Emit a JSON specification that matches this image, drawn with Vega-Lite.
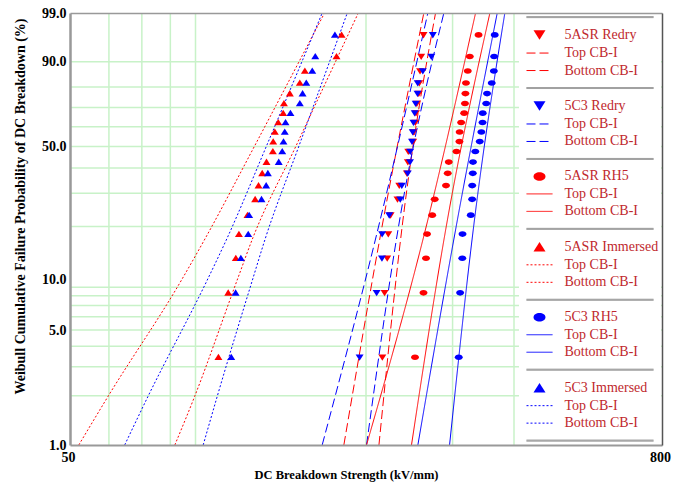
{
  "$schema": "https://vega.github.io/schema/vega-lite/v6.json",
  "width": 592,
  "height": 432,
  "autosize": {"type": "none"},
  "padding": {"left": 70, "top": 13, "right": 20, "bottom": 37},
  "background": "white",
  "config": {"view": {"stroke": null}, "font": "Liberation Serif"},
  "datasets": {
    "vgrid": [{"kv": 60}, {"kv": 70}, {"kv": 80}, {"kv": 90}, {"kv": 200}, {"kv": 300}, {"kv": 400}, {"kv": 500}, {"kv": 600}, {"kv": 700}],
    "hgrid": [{"pct": 2, "w": -3.90194}, {"pct": 3, "w": -3.49136}, {"pct": 4, "w": -3.19853}, {"pct": 5, "w": -2.9702}, {"pct": 6, "w": -2.78269}, {"pct": 7, "w": -2.62319}, {"pct": 8, "w": -2.48413}, {"pct": 9, "w": -2.36119}, {"pct": 20, "w": -1.49994}, {"pct": 30, "w": -1.03093}, {"pct": 40, "w": -0.67173}, {"pct": 50, "w": -0.36651}, {"pct": 60, "w": -0.08742}, {"pct": 70, "w": 0.18563}, {"pct": 80, "w": 0.47588}, {"pct": 90, "w": 0.83403}],
    "bounds": [
      {"series": "5ASR Immersed Top CB-I", "kv": 52.1, "w": -4.6},
      {"series": "5ASR Immersed Top CB-I", "kv": 59.7, "w": -3.915},
      {"series": "5ASR Immersed Top CB-I", "kv": 84.3, "w": -2.26},
      {"series": "5ASR Immersed Top CB-I", "kv": 94.3, "w": -1.664},
      {"series": "5ASR Immersed Top CB-I", "kv": 118.7, "w": -0.359},
      {"series": "5ASR Immersed Top CB-I", "kv": 164.7, "w": 1.527},
      {"series": "5ASR Immersed Bottom CB-I", "kv": 81.7, "w": -4.6},
      {"series": "5ASR Immersed Bottom CB-I", "kv": 89.6, "w": -3.915},
      {"series": "5ASR Immersed Bottom CB-I", "kv": 109.4, "w": -2.26},
      {"series": "5ASR Immersed Bottom CB-I", "kv": 117.7, "w": -1.664},
      {"series": "5ASR Immersed Bottom CB-I", "kv": 144.1, "w": -0.359},
      {"series": "5ASR Immersed Bottom CB-I", "kv": 192.9, "w": 1.527},
      {"series": "5C3 Immersed Top CB-I", "kv": 64.6, "w": -4.6},
      {"series": "5C3 Immersed Top CB-I", "kv": 72.0, "w": -3.915},
      {"series": "5C3 Immersed Top CB-I", "kv": 95.1, "w": -2.26},
      {"series": "5C3 Immersed Top CB-I", "kv": 104.4, "w": -1.664},
      {"series": "5C3 Immersed Top CB-I", "kv": 125.5, "w": -0.359},
      {"series": "5C3 Immersed Top CB-I", "kv": 162.9, "w": 1.527},
      {"series": "5C3 Immersed Bottom CB-I", "kv": 93.3, "w": -4.6},
      {"series": "5C3 Immersed Bottom CB-I", "kv": 99.6, "w": -3.915},
      {"series": "5C3 Immersed Bottom CB-I", "kv": 117.5, "w": -2.26},
      {"series": "5C3 Immersed Bottom CB-I", "kv": 124.9, "w": -1.664},
      {"series": "5C3 Immersed Bottom CB-I", "kv": 146.1, "w": -0.359},
      {"series": "5C3 Immersed Bottom CB-I", "kv": 183.2, "w": 1.527},
      {"series": "5ASR Redry Top CB-I", "kv": 180.3, "w": -4.6},
      {"series": "5ASR Redry Top CB-I", "kv": 215.9, "w": -1.48},
      {"series": "5ASR Redry Top CB-I", "kv": 262.2, "w": 1.527},
      {"series": "5ASR Redry Bottom CB-I", "kv": 212.5, "w": -4.6},
      {"series": "5ASR Redry Bottom CB-I", "kv": 237.1, "w": -1.48},
      {"series": "5ASR Redry Bottom CB-I", "kv": 277.0, "w": 1.527},
      {"series": "5C3 Redry Top CB-I", "kv": 162.9, "w": -4.6},
      {"series": "5C3 Redry Top CB-I", "kv": 212.5, "w": -1.48},
      {"series": "5C3 Redry Top CB-I", "kv": 267.2, "w": 1.527},
      {"series": "5C3 Redry Bottom CB-I", "kv": 200.5, "w": -4.6},
      {"series": "5C3 Redry Bottom CB-I", "kv": 233.2, "w": -1.48},
      {"series": "5C3 Redry Bottom CB-I", "kv": 288.0, "w": 1.527},
      {"series": "5ASR RH5 Top CB-I", "kv": 200.5, "w": -4.6},
      {"series": "5ASR RH5 Top CB-I", "kv": 265.6, "w": -1.48},
      {"series": "5ASR RH5 Top CB-I", "kv": 334.1, "w": 1.527},
      {"series": "5ASR RH5 Bottom CB-I", "kv": 247.5, "w": -4.6},
      {"series": "5ASR RH5 Bottom CB-I", "kv": 291.6, "w": -1.48},
      {"series": "5ASR RH5 Bottom CB-I", "kv": 357.3, "w": 1.527},
      {"series": "5C3 RH5 Top CB-I", "kv": 255.0, "w": -4.6},
      {"series": "5C3 RH5 Top CB-I", "kv": 305.5, "w": -1.48},
      {"series": "5C3 RH5 Top CB-I", "kv": 369.8, "w": 1.527},
      {"series": "5C3 RH5 Bottom CB-I", "kv": 295.8, "w": -4.6},
      {"series": "5C3 RH5 Bottom CB-I", "kv": 331.4, "w": -1.48},
      {"series": "5C3 RH5 Bottom CB-I", "kv": 383.2, "w": 1.527}
    ],
    "points": [
      {"series": "5ASR Immersed", "kv": 100.2, "w": -3.355}, {"series": "5ASR Immersed", "kv": 104.9, "w": -2.442}, {"series": "5ASR Immersed", "kv": 108.7, "w": -1.952}, {"series": "5ASR Immersed", "kv": 110.3, "w": -1.609}, {"series": "5ASR Immersed", "kv": 114.8, "w": -1.34}, {"series": "5ASR Immersed", "kv": 119.0, "w": -1.116}, {"series": "5ASR Immersed", "kv": 120.9, "w": -0.921}, {"series": "5ASR Immersed", "kv": 123.0, "w": -0.747}, {"series": "5ASR Immersed", "kv": 125.5, "w": -0.587}, {"series": "5ASR Immersed", "kv": 129.3, "w": -0.438}, {"series": "5ASR Immersed", "kv": 129.5, "w": -0.297}, {"series": "5ASR Immersed", "kv": 130.5, "w": -0.16}, {"series": "5ASR Immersed", "kv": 132.6, "w": -0.026}, {"series": "5ASR Immersed", "kv": 135.7, "w": 0.107}, {"series": "5ASR Immersed", "kv": 136.2, "w": 0.243}, {"series": "5ASR Immersed", "kv": 140.0, "w": 0.384}, {"series": "5ASR Immersed", "kv": 146.7, "w": 0.535}, {"series": "5ASR Immersed", "kv": 150.2, "w": 0.704}, {"series": "5ASR Immersed", "kv": 174.2, "w": 0.91}, {"series": "5ASR Immersed", "kv": 178.4, "w": 1.216},
      {"series": "5C3 Immersed", "kv": 106.4, "w": -3.355}, {"series": "5C3 Immersed", "kv": 108.6, "w": -2.442}, {"series": "5C3 Immersed", "kv": 111.3, "w": -1.952}, {"series": "5C3 Immersed", "kv": 115.2, "w": -1.609}, {"series": "5C3 Immersed", "kv": 115.7, "w": -1.34}, {"series": "5C3 Immersed", "kv": 122.6, "w": -1.116}, {"series": "5C3 Immersed", "kv": 125.3, "w": -0.921}, {"series": "5C3 Immersed", "kv": 126.3, "w": -0.747}, {"series": "5C3 Immersed", "kv": 132.9, "w": -0.587}, {"series": "5C3 Immersed", "kv": 135.1, "w": -0.438}, {"series": "5C3 Immersed", "kv": 135.9, "w": -0.297}, {"series": "5C3 Immersed", "kv": 136.7, "w": -0.16}, {"series": "5C3 Immersed", "kv": 137.2, "w": -0.026}, {"series": "5C3 Immersed", "kv": 140.4, "w": 0.107}, {"series": "5C3 Immersed", "kv": 146.7, "w": 0.243}, {"series": "5C3 Immersed", "kv": 148.6, "w": 0.384}, {"series": "5C3 Immersed", "kv": 151.2, "w": 0.535}, {"series": "5C3 Immersed", "kv": 155.5, "w": 0.704}, {"series": "5C3 Immersed", "kv": 157.7, "w": 0.91}, {"series": "5C3 Immersed", "kv": 172.9, "w": 1.216},
      {"series": "5ASR Redry", "kv": 215.9, "w": -3.355}, {"series": "5ASR Redry", "kv": 218.2, "w": -2.442}, {"series": "5ASR Redry", "kv": 220.9, "w": -1.952}, {"series": "5ASR Redry", "kv": 222.0, "w": -1.609}, {"series": "5ASR Redry", "kv": 224.4, "w": -1.34}, {"series": "5ASR Redry", "kv": 231.8, "w": -1.116}, {"series": "5ASR Redry", "kv": 233.7, "w": -0.921}, {"series": "5ASR Redry", "kv": 242.2, "w": -0.747}, {"series": "5ASR Redry", "kv": 243.3, "w": -0.587}, {"series": "5ASR Redry", "kv": 243.8, "w": -0.438}, {"series": "5ASR Redry", "kv": 249.5, "w": -0.297}, {"series": "5ASR Redry", "kv": 249.8, "w": -0.16}, {"series": "5ASR Redry", "kv": 252.0, "w": -0.026}, {"series": "5ASR Redry", "kv": 252.8, "w": 0.107}, {"series": "5ASR Redry", "kv": 253.7, "w": 0.243}, {"series": "5ASR Redry", "kv": 256.1, "w": 0.384}, {"series": "5ASR Redry", "kv": 256.7, "w": 0.535}, {"series": "5ASR Redry", "kv": 257.6, "w": 0.704}, {"series": "5ASR Redry", "kv": 259.0, "w": 0.91}, {"series": "5ASR Redry", "kv": 261.8, "w": 1.216},
      {"series": "5C3 Redry", "kv": 194.1, "w": -3.355}, {"series": "5C3 Redry", "kv": 210.2, "w": -2.442}, {"series": "5C3 Redry", "kv": 215.5, "w": -1.952}, {"series": "5C3 Redry", "kv": 215.7, "w": -1.609}, {"series": "5C3 Redry", "kv": 223.0, "w": -1.34}, {"series": "5C3 Redry", "kv": 234.8, "w": -1.116}, {"series": "5C3 Redry", "kv": 236.5, "w": -0.921}, {"series": "5C3 Redry", "kv": 243.2, "w": -0.747}, {"series": "5C3 Redry", "kv": 245.8, "w": -0.587}, {"series": "5C3 Redry", "kv": 246.0, "w": -0.438}, {"series": "5C3 Redry", "kv": 248.1, "w": -0.297}, {"series": "5C3 Redry", "kv": 248.9, "w": -0.16}, {"series": "5C3 Redry", "kv": 249.8, "w": -0.026}, {"series": "5C3 Redry", "kv": 251.2, "w": 0.107}, {"series": "5C3 Redry", "kv": 252.4, "w": 0.243}, {"series": "5C3 Redry", "kv": 254.6, "w": 0.384}, {"series": "5C3 Redry", "kv": 254.8, "w": 0.535}, {"series": "5C3 Redry", "kv": 261.0, "w": 0.704}, {"series": "5C3 Redry", "kv": 271.6, "w": 0.91}, {"series": "5C3 Redry", "kv": 273.5, "w": 1.216},
      {"series": "5ASR RH5", "kv": 251.6, "w": -3.355}, {"series": "5ASR RH5", "kv": 261.8, "w": -2.442}, {"series": "5ASR RH5", "kv": 264.9, "w": -1.952}, {"series": "5ASR RH5", "kv": 266.2, "w": -1.609}, {"series": "5ASR RH5", "kv": 272.7, "w": -1.34}, {"series": "5ASR RH5", "kv": 275.9, "w": -1.116}, {"series": "5ASR RH5", "kv": 290.9, "w": -0.921}, {"series": "5ASR RH5", "kv": 293.3, "w": -0.747}, {"series": "5ASR RH5", "kv": 294.7, "w": -0.587}, {"series": "5ASR RH5", "kv": 305.5, "w": -0.438}, {"series": "5ASR RH5", "kv": 309.8, "w": -0.297}, {"series": "5ASR RH5", "kv": 310.1, "w": -0.16}, {"series": "5ASR RH5", "kv": 312.3, "w": -0.026}, {"series": "5ASR RH5", "kv": 316.8, "w": 0.107}, {"series": "5ASR RH5", "kv": 317.9, "w": 0.243}, {"series": "5ASR RH5", "kv": 318.6, "w": 0.384}, {"series": "5ASR RH5", "kv": 319.4, "w": 0.535}, {"series": "5ASR RH5", "kv": 322.1, "w": 0.704}, {"series": "5ASR RH5", "kv": 325.2, "w": 0.91}, {"series": "5ASR RH5", "kv": 338.8, "w": 1.216},
      {"series": "5C3 RH5", "kv": 308.8, "w": -3.355}, {"series": "5C3 RH5", "kv": 310.8, "w": -2.442}, {"series": "5C3 RH5", "kv": 314.0, "w": -1.952}, {"series": "5C3 RH5", "kv": 314.3, "w": -1.609}, {"series": "5C3 RH5", "kv": 326.7, "w": -1.34}, {"series": "5C3 RH5", "kv": 328.8, "w": -1.116}, {"series": "5C3 RH5", "kv": 328.9, "w": -0.921}, {"series": "5C3 RH5", "kv": 329.8, "w": -0.747}, {"series": "5C3 RH5", "kv": 330.1, "w": -0.587}, {"series": "5C3 RH5", "kv": 333.7, "w": -0.438}, {"series": "5C3 RH5", "kv": 340.7, "w": -0.297}, {"series": "5C3 RH5", "kv": 343.3, "w": -0.16}, {"series": "5C3 RH5", "kv": 345.2, "w": -0.026}, {"series": "5C3 RH5", "kv": 345.5, "w": 0.107}, {"series": "5C3 RH5", "kv": 351.2, "w": 0.243}, {"series": "5C3 RH5", "kv": 352.6, "w": 0.384}, {"series": "5C3 RH5", "kv": 360.4, "w": 0.535}, {"series": "5C3 RH5", "kv": 364.0, "w": 0.704}, {"series": "5C3 RH5", "kv": 364.5, "w": 0.91}, {"series": "5C3 RH5", "kv": 365.5, "w": 1.216}
    ]
  },
  "layer": [
    {
      "data": {"name": "vgrid"},
      "mark": {"type": "rule", "color": "#c8f2c8", "strokeWidth": 1.5},
      "encoding": {
        "x": {"field": "kv", "type": "quantitative",
          "scale": {"type": "log", "domain": [50, 800], "nice": false, "zero": false},
          "axis": {"orient": "bottom", "values": [50, 800], "format": "d", "grid": false, "ticks": false,
            "domain": true, "domainColor": "#999999", "domainWidth": 2,
            "labelFont": "Liberation Serif", "labelFontWeight": "bold", "labelFontSize": 14, "labelColor": "black",
            "labelPadding": 5, "labelFlush": false, "labelOffset": -2,
            "title": "DC Breakdown Strength (kV/mm)", "titleFont": "Liberation Serif", "titleFontSize": 12.5,
            "titleFontWeight": "bold", "titleColor": "black", "titleX": 276, "titleY": 29,
            "titleBaseline": "middle", "titleAlign": "center", "zindex": 1}}
      }
    },
    {
      "data": {"name": "hgrid"},
      "mark": {"type": "rule", "color": "#c8f2c8", "strokeWidth": 1.5},
      "encoding": {
        "y": {"field": "w", "type": "quantitative",
          "scale": {"domain": [-4.60015, 1.52718], "nice": false, "zero": false},
          "axis": {"orient": "left", "values": [-4.60015, -2.9702, -2.25037, -0.366513, 0.834032, 1.52718],
            "labelExpr": "format(100*(1-exp(-exp(datum.value))), '.1f')",
            "grid": false, "ticks": false, "domain": true, "domainColor": "#999999", "domainWidth": 2.5,
            "labelFont": "Liberation Serif", "labelFontWeight": "bold", "labelFontSize": 14, "labelColor": "black",
            "labelPadding": 4, "labelFlush": false,
            "title": "Weibull Cumulative Failure Probability of DC Breakdown (%)", "titleFont": "Liberation Serif",
            "titleFontSize": 14, "titleFontWeight": "bold", "titleColor": "black",
            "titleX": -50, "titleY": 193, "titleAngle": -90, "titleBaseline": "middle", "titleAlign": "center", "zindex": 1}}
      }
    },
    {
      "data": {"name": "bounds"},
      "mark": {"type": "line", "strokeWidth": 1, "interpolate": "monotone"},
      "encoding": {
        "x": {"field": "kv", "type": "quantitative",
          "scale": {"type": "log", "domain": [50, 800], "nice": false, "zero": false},
          "axis": {"orient": "top", "domain": true, "domainColor": "#999999", "domainWidth": 1.5, "labels": false, "ticks": false, "grid": false, "title": null, "zindex": 1}},
        "y": {"field": "w", "type": "quantitative",
          "scale": {"domain": [-4.60015, 1.52718], "nice": false, "zero": false},
          "axis": {"orient": "right", "domain": true, "domainColor": "#555555", "domainWidth": 1.5, "labels": false, "ticks": false, "grid": false, "title": null, "zindex": 1}},
        "stroke": {"field": "series", "type": "nominal",
          "scale": {
            "domain": ["sep1", "5ASR Redry", "5ASR Redry Top CB-I", "5ASR Redry Bottom CB-I", "sep2", "5C3 Redry", "5C3 Redry Top CB-I", "5C3 Redry Bottom CB-I", "sep3", "5ASR RH5", "5ASR RH5 Top CB-I", "5ASR RH5 Bottom CB-I", "sep4", "5ASR Immersed", "5ASR Immersed Top CB-I", "5ASR Immersed Bottom CB-I", "sep5", "5C3 RH5", "5C3 RH5 Top CB-I", "5C3 RH5 Bottom CB-I", "sep6", "5C3 Immersed", "5C3 Immersed Top CB-I", "5C3 Immersed Bottom CB-I", "sep7"],
            "range": ["#808080", "transparent", "#ff0000", "#ff0000", "#808080", "transparent", "#0000ff", "#0000ff", "#808080", "transparent", "#ff0000", "#ff0000", "#808080", "transparent", "#ff0000", "#ff0000", "#808080", "transparent", "#0000ff", "#0000ff", "#808080", "transparent", "#0000ff", "#0000ff", "#808080"]}},
        "strokeDash": {"field": "series", "type": "nominal",
          "scale": {
            "domain": ["sep1", "5ASR Redry", "5ASR Redry Top CB-I", "5ASR Redry Bottom CB-I", "sep2", "5C3 Redry", "5C3 Redry Top CB-I", "5C3 Redry Bottom CB-I", "sep3", "5ASR RH5", "5ASR RH5 Top CB-I", "5ASR RH5 Bottom CB-I", "sep4", "5ASR Immersed", "5ASR Immersed Top CB-I", "5ASR Immersed Bottom CB-I", "sep5", "5C3 RH5", "5C3 RH5 Top CB-I", "5C3 RH5 Bottom CB-I", "sep6", "5C3 Immersed", "5C3 Immersed Top CB-I", "5C3 Immersed Bottom CB-I", "sep7"],
            "range": [[1, 0], [1, 0], [9, 4], [9, 4], [1, 0], [1, 0], [9, 4], [9, 4], [1, 0], [1, 0], [1, 0], [1, 0], [1, 0], [1, 0], [2, 2], [2, 2], [1, 0], [1, 0], [1, 0], [1, 0], [1, 0], [1, 0], [2, 2], [2, 2], [1, 0]]}}
      }
    },
    {
      "data": {"name": "points"},
      "mark": {"type": "point", "filled": true, "size": 44, "strokeWidth": 0, "opacity": 1},
      "encoding": {
        "x": {"field": "kv", "type": "quantitative", "scale": {"type": "log", "domain": [50, 800], "nice": false, "zero": false}, "axis": null},
        "y": {"field": "w", "type": "quantitative", "scale": {"domain": [-4.60015, 1.52718], "nice": false, "zero": false}, "axis": null},
        "fill": {"field": "series", "type": "nominal",
          "scale": {
            "domain": ["sep1", "5ASR Redry", "5ASR Redry Top CB-I", "5ASR Redry Bottom CB-I", "sep2", "5C3 Redry", "5C3 Redry Top CB-I", "5C3 Redry Bottom CB-I", "sep3", "5ASR RH5", "5ASR RH5 Top CB-I", "5ASR RH5 Bottom CB-I", "sep4", "5ASR Immersed", "5ASR Immersed Top CB-I", "5ASR Immersed Bottom CB-I", "sep5", "5C3 RH5", "5C3 RH5 Top CB-I", "5C3 RH5 Bottom CB-I", "sep6", "5C3 Immersed", "5C3 Immersed Top CB-I", "5C3 Immersed Bottom CB-I", "sep7"],
            "range": ["transparent", "#ff0000", "transparent", "transparent", "transparent", "#0000ff", "transparent", "transparent", "transparent", "#ff0000", "transparent", "transparent", "transparent", "#ff0000", "transparent", "transparent", "transparent", "#0000ff", "transparent", "transparent", "transparent", "#0000ff", "transparent", "transparent", "transparent"]}},
        "shape": {"field": "series", "type": "nominal",
          "scale": {
            "domain": ["sep1", "5ASR Redry", "5ASR Redry Top CB-I", "5ASR Redry Bottom CB-I", "sep2", "5C3 Redry", "5C3 Redry Top CB-I", "5C3 Redry Bottom CB-I", "sep3", "5ASR RH5", "5ASR RH5 Top CB-I", "5ASR RH5 Bottom CB-I", "sep4", "5ASR Immersed", "5ASR Immersed Top CB-I", "5ASR Immersed Bottom CB-I", "sep5", "5C3 RH5", "5C3 RH5 Top CB-I", "5C3 RH5 Bottom CB-I", "sep6", "5C3 Immersed", "5C3 Immersed Top CB-I", "5C3 Immersed Bottom CB-I", "sep7"],
            "range": [
              "M-2.6,-0.1H22.8M-2.6,0.1H22.8", "M-2.6,0M-1.2,-0.85L1.2,-0.85L0,1.05Z", "M-2.6,0H2.6", "M-2.6,0H2.6",
              "M-2.6,-0.1H22.8M-2.6,0.1H22.8", "M-2.6,0M-1.2,-0.85L1.2,-0.85L0,1.05Z", "M-2.6,0H2.6", "M-2.6,0H2.6",
              "M-2.6,-0.1H22.8M-2.6,0.1H22.8", "M-2.6,0M-1.2,0A1.2,0.85,0,1,0,1.2,0A1.2,0.85,0,1,0,-1.2,0Z", "M-2.6,0H2.6", "M-2.6,0H2.6",
              "M-2.6,-0.1H22.8M-2.6,0.1H22.8", "M-2.6,0M-1.2,0.85L1.2,0.85L0,-1.05Z", "M-2.6,0H2.6", "M-2.6,0H2.6",
              "M-2.6,-0.1H22.8M-2.6,0.1H22.8", "M-2.6,0M-1.2,0A1.2,0.85,0,1,0,1.2,0A1.2,0.85,0,1,0,-1.2,0Z", "M-2.6,0H2.6", "M-2.6,0H2.6",
              "M-2.6,-0.1H22.8M-2.6,0.1H22.8", "M-2.6,0M-1.2,0.85L1.2,0.85L0,-1.05Z", "M-2.6,0H2.6", "M-2.6,0H2.6",
              "M-2.6,-0.1H22.8M-2.6,0.1H22.8"]},
          "legend": {
            "title": null, "orient": "none", "legendX": 449, "legendY": -4.9, "direction": "vertical",
            "fillColor": "white", "padding": 2, "rowPadding": 3.48, "symbolSize": 100, "symbolOffset": 11.5,
            "symbolStrokeWidth": 1, "symbolOpacity": 1,
            "labelOffset": 18, "labelFont": "Liberation Serif", "labelFontSize": 14, "labelColor": "#C0282D",
            "labelLimit": 200, "symbolLimit": 100, "zindex": 0,
            "labelExpr": "indexof(datum.label,'sep')==0 ? ' ' : (indexof(datum.label,'Top CB-I')>0 ? 'Top CB-I' : (indexof(datum.label,'Bottom CB-I')>0 ? 'Bottom CB-I' : datum.label))"
          }}
      }
    }
  ],
  "resolve": {"axis": {"x": "independent", "y": "independent"}}
}
